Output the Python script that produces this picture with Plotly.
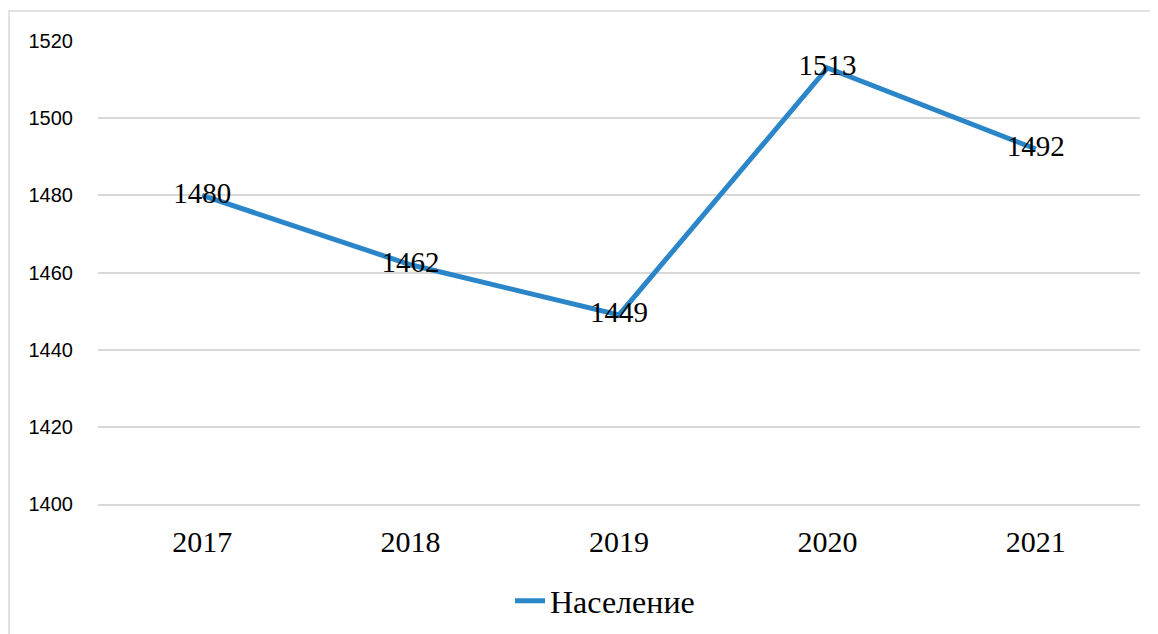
import plotly.graph_objects as go

years = ["2017", "2018", "2019", "2020", "2021"]
population = [1480, 1462, 1449, 1513, 1492]
y_ticks = [1400, 1420, 1440, 1460, 1480, 1500, 1520]
series_name = "Население"

# page is offset by the 8px default body margin
W, H = 1150, 626
L, R, T, B = 90, 18, 33, 130
pw = W - L - R
ph = H - T - B

fig = go.Figure()
fig.add_trace(go.Scatter(
    x=years, y=population, mode="lines+text", name=series_name,
    line=dict(color="#2A86C9", width=5),
    text=[str(v) for v in population], textposition="middle center",
    textfont=dict(family="Liberation Serif", size=29, color="#000000"),
    cliponaxis=False,
))

# outer chart frame
fig.add_shape(type="rect", xref="paper", yref="paper",
              x0=(1 - L) / pw, x1=(W + 40 - L) / pw,
              y0=-(H + 40 - (H - B)) / ph, y1=((H - B) - 3) / ph,
              line=dict(color="#D9D9D9", width=1.5), layer="below")

fig.update_layout(
    width=W, height=H,
    margin=dict(l=L, r=R, t=T, b=B, autoexpand=False),
    paper_bgcolor="white", plot_bgcolor="white",
    showlegend=True,
    legend=dict(orientation="h", x=(502 - L) / pw, xanchor="left",
                y=-(593 - (H - B)) / ph, yanchor="middle",
                font=dict(family="Liberation Serif", size=32, color="#000000"),
                itemwidth=30),
    xaxis=dict(type="category", range=[-0.5, 4.5], showgrid=False,
               showline=True, linecolor="#D9D9D9", linewidth=1.5, ticks="",
               tickfont=dict(family="Liberation Serif", size=30, color="#000000"),
               ticklabelstandoff=10, automargin=False),
    yaxis=dict(range=[1400, 1520], tickvals=y_ticks, showgrid=True,
               gridcolor="#D9D9D9", gridwidth=1.5, zeroline=False, showline=False,
               tickfont=dict(family="Liberation Sans", size=20, color="#000000"),
               ticklabelstandoff=24, automargin=False),
)
fig.write_html("out.html")
